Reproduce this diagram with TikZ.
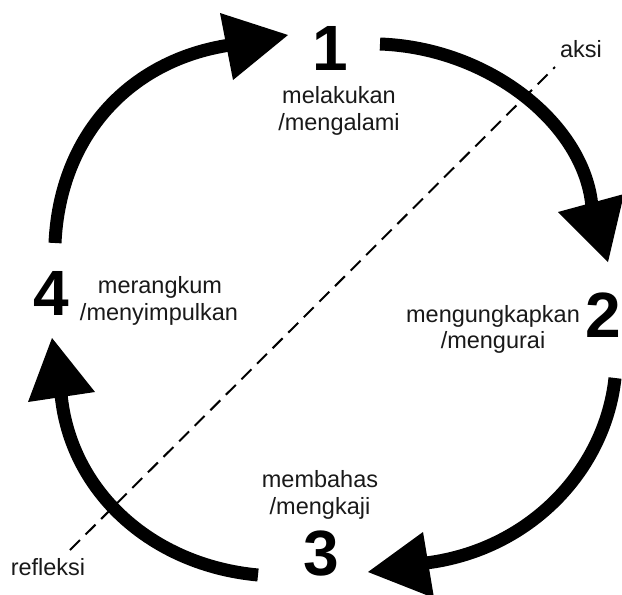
\documentclass[tikz,border=0pt]{standalone}
\usepackage{fontspec}
\setmainfont{Liberation Sans}
\begin{document}
\begin{tikzpicture}[x=1pt,y=-1pt,
  cyclearc/.style={line width=13pt, line cap=butt, draw=black},
  head/.style={fill=black, draw=none},
  num/.style={font=\bfseries\fontsize{64}{64}\selectfont, inner sep=0pt, anchor=base},
  lbl/.style={font=\fontsize{23.5}{27}\selectfont, inner sep=0pt, anchor=base, text=black!90},
  divider/.style={line width=2pt, dash pattern=on 14pt off 8pt}]
\fill[white] (0,0) rectangle (622,595);
\useasboundingbox (0,0) rectangle (622,595);

% dashed divider
\coordinate (dA) at (70,550);
\coordinate (dB) at (555,67);
\draw[divider] (dA) -- (dB);

% arrow 4 -> 1
\draw[cyclearc] (55,243) .. controls (60,135) and (130,60) .. (230,45);
\fill[head] (220,13) -- (233,80) -- (288,35) -- cycle;
% arrow 1 -> 2
\draw[cyclearc] (380,44) .. controls (490,48) and (585,125) .. (592,207);
\fill[head] (558,212) -- (624,194) -- (608,262) -- cycle;
% arrow 2 -> 3
\draw[cyclearc] (615,378) .. controls (605,470) and (530,550) .. (426,563);
\fill[head] (423,532) -- (434,598) -- (368,572) -- cycle;
% arrow 3 -> 4
\draw[cyclearc] (258,575) .. controls (150,565) and (70,490) .. (61,394);
\fill[head] (28,402) -- (95,392) -- (52,338) -- cycle;

% numbers
\node[num] (n1) at (330,70) {1};
\node[num] (n2) at (603,337) {2};
\node[num] (n3) at (321,575) {3};
\node[num] (n4) at (51,315) {4};

% labels
\node[lbl] (l1a) at (339,103) {melakukan};
\node[lbl] (l1b) at (339,130) {/mengalami};
\node[lbl] (l2a) at (493,322) {mengungkapkan};
\node[lbl] (l2b) at (493,348) {/mengurai};
\node[lbl] (l3a) at (320,487) {membahas};
\node[lbl] (l3b) at (320,514) {/mengkaji};
\node[lbl] (l4a) at (160,293) {merangkum};
\node[lbl] (l4b) at (159,320) {/menyimpulkan};
\node[lbl] (ak) at (581,57) {aksi};
\node[lbl] (rf) at (48,575) {refleksi};
\end{tikzpicture}
\end{document}
